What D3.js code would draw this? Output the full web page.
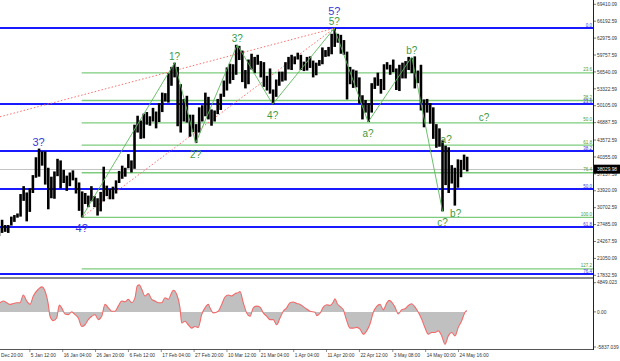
<!DOCTYPE html>
<html><head><meta charset="utf-8">
<script src="https://cdn.jsdelivr.net/npm/d3@7"></script>
<style>body{margin:0;background:#fff;}svg{display:block;}</style>
</head><body>
<svg id="c" width="620" height="361"></svg>
<script>
// ---------- DATA ----------
const firstDay = "2020-12-26";
const dayHighs = [26900,28400,27400,27400,29000,29300,
29600,33300,34800,33600,34400,36900,40300,41950,41400,41400,38300,36600,37600,40000,39700,37900,36800,37400,37800,36400,35500,33800,33500,33000,34800,32900,32500,33700,38500,34900,34300,
34700,35900,37700,38700,38300,40900,39700,46500,48200,47300,48600,48900,48100,49700,49000,50600,52600,52500,56300,57500,58300,57500,54200,51400,52000,48400,48400,46600,
49800,50200,52600,51800,49400,49200,51400,52400,54900,57400,58100,58000,61700,61500,60600,56900,58900,60000,59400,59800,58600,58400,55800,57200,53200,55100,56600,56600,58400,59400,59800,
59500,60200,59800,58500,59400,59500,58700,58300,58800,61200,60700,61300,63800,64850,63800,63600,62600,60400,57500,57000,56800,55500,52100,51200,50600,54400,55500,56400,55200,58000,
58400,57900,58900,57200,57900,58300,58600,59400,59200,59500,56800,57900,51300,51400,50600,49800,46600,45800,43500,42500,42200,38800,38300,39900,39800,40800,40400];
const dayLows = [25300,25900,26100,25900,27300,28000,
28800,29000,32000,28100,29900,33500,36400,36600,38700,35100,30400,32500,32400,36700,34400,35400,33900,34800,35900,33400,30100,28850,31400,30800,31900,30800,29200,30000,31900,32900,32300,
32300,33400,35400,36200,36600,38200,37400,38100,45000,43800,43900,46500,46300,47100,45800,47000,48900,50900,50700,53900,55500,46200,45000,47100,46900,44200,45100,43000,
45000,47100,48100,47500,46300,47100,48500,49300,51800,53000,54300,55000,56000,58800,54600,53400,54200,57000,56300,57900,55500,53700,53000,52400,50400,51800,53900,54700,54900,57000,56900,
58000,58900,56900,56700,56800,57300,55500,55900,57700,58000,59400,59500,59900,61300,62100,60000,59800,51300,54200,53500,53600,50500,47500,48800,47000,48800,53300,53900,52400,53100,
57000,56000,56500,53100,52900,55300,55300,56900,56300,53400,54400,49200,46000,48800,46700,43800,42100,42300,30000,35000,33500,35300,31100,34500,36500,37900,37600];
const lastPrice = 38029.98;

const priceTicks = [69410.09,66192.59,62975.09,59757.59,56540.09,53322.59,50105.09,46887.59,43572.59,40355.09,37137.59,33920.09,30702.59,27485.09,24267.59,21050.09,17832.59];
const oscTicks = [4849.023, 0, -5837.039];
const oscTickLabels = ["4849.023","0.00","-5837.039"];

const timeTicks = ["2020-12-25T20:00","2021-01-05T12:00","2021-01-16T04:00","2021-01-26T20:00","2021-02-06T12:00","2021-02-17T04:00","2021-02-27T20:00","2021-03-10T12:00","2021-03-21T04:00","2021-04-01T04:00","2021-04-11T20:00","2021-04-22T12:00","2021-05-03T08:00","2021-05-14T00:00","2021-05-24T16:00"];
const timeTickLabels = ["Dec 20:00","5 Jan 12:00","16 Jan 04:00","26 Jan 20:00","6 Feb 12:00","17 Feb 04:00","27 Feb 20:00","10 Mar 12:00","21 Mar 04:00","1 Apr 04:00","11 Apr 20:00","22 Apr 12:00","3 May 08:00","14 May 00:00","24 May 16:00"];

// oscillator: days after 25 Dec 20:00, value
const oscDays = [0.97,2.05,3.15,4.22,5.29,6.40,7.47,8.54,9.64,10.71,11.79,13.41,14.51,15.58,16.66,17.21,18.28,19.38,20.23,21.01,22.08,23.15,24.25,25.32,26.40,27.50,28.57,29.64,30.75,31.82,32.89,33.99,35.06,36.14,37.24,38.31,39.38,40.49,41.56,42.63,43.73,44.81,45.55,46.20,46.98,48.05,49.12,50.23,51.30,52.37,53.47,54.55,55.62,56.72,57.24,58.34,59.42,59.97,61.04,62.11,63.21,64.29,65.36,66.46,67.53,68.60,69.16,70.23,71.85,72.95,74.03,75.10,76.20,77.27,78.34,78.90,79.97,81.07,82.14,83.21,84.32,85.39,86.46,87.56,88.64,89.71,90.81,91.88,92.95,94.06,95.13,96.20,97.31,98.38,
100.0,101.62,103.25,103.80,104.87,105.94,107.05,108.12,109.19,109.74,110.49,111.36,112.44,113.54,114.61,115.68,116.79,117.86,118.93,120.03,121.10,122.18,123.28,124.35,125.42,126.53,127.37,128.15,129.22,130.29,131.40,132.47,133.54,134.64,135.71,136.79,137.89,138.96,140.03,141.14,142.21,143.28,144.38,145.45,146.53,147.63,148.70,149.77,150.88,151.95,152.50];
const oscValues = [1520,1800,1520,1240,1400,1520,1520,2810,1800,1240,2640,3760,4160,3480,1240,-730,-1460,-1010,1120,670,-340,-450,0,-450,-1010,-2420,-2140,-1290,-730,-450,-1290,-730,1240,670,110,110,960,1800,1690,2080,1520,2360,4330,4490,3760,2640,3030,2080,1800,1520,1520,2360,2080,3200,3600,2920,670,-1850,-1570,-2140,-2700,-2420,-2580,-450,670,1240,670,-170,110,1240,2470,2810,2640,3030,3200,3370,1520,-170,-730,670,960,790,-170,-730,-1290,-1290,-2140,-1010,110,670,1520,1630,1400,1240,
670,110,-60,-620,-230,790,1180,1070,1630,2190,1350,900,340,-1460,-2700,-2700,-2580,-2870,-3710,-3150,-2020,-60,900,1240,340,1460,1910,1630,790,-340,340,510,1070,1350,790,-60,-1240,-2640,-3710,-3430,-3430,-3150,-3990,-5390,-3990,-3430,-3990,-2580,-1460,-60,230];

// Fibonacci grids
const blueFibLevels = [0,23.6,38.2,50,61.8,76.4];
const blueFibHigh = 64850, blueFibLow = 3600;
const greenFibLevels = [0,23.6,38.2,50,61.8,76.4,100,127.2];
const greenFibHigh = 64850, greenFibLow = 28850, greenFibStart = "2021-01-22T08:00";

// wave count (green zigzag)
const waveDates = ["2021-01-22T08:00","2021-02-21T12:00","2021-02-28T08:00","2021-03-13T20:00","2021-03-25T08:00","2021-04-14T08:00","2021-04-25T08:00","2021-05-09T12:00","2021-05-19T12:00"];
const wavePrices = [28850,58300,43000,61700,50400,64850,47000,59400,30000];

// red dotted channel lines
const redLines = [
  [["2020-12-26T19:00",48000],["2021-04-14T08:00",64850]],
  [["2021-01-22T08:00",28850],["2021-04-14T08:00",64850]]
];

const waveLabels = [
  {text:"3?",date:"2021-01-08T08:00",price:41950,group:"blue",place:"above"},
  {text:"4?",date:"2021-01-22T08:00",price:28850,group:"blue",place:"below"},
  {text:"5?",date:"2021-04-14T08:00",price:64850,group:"blue",place:"above2"},
  {text:"1?",date:"2021-02-21T12:00",price:58300,group:"green",place:"above"},
  {text:"2?",date:"2021-02-28T08:00",price:43000,group:"green",place:"below"},
  {text:"3?",date:"2021-03-13T20:00",price:61700,group:"green",place:"above"},
  {text:"4?",date:"2021-03-25T08:00",price:50400,group:"green",place:"below"},
  {text:"5?",date:"2021-04-14T08:00",price:64850,group:"green",place:"above"},
  {text:"a?",date:"2021-04-25T08:00",price:47000,group:"green",place:"below"},
  {text:"b?",date:"2021-05-09T12:00",price:59400,group:"green",place:"above"},
  {text:"c?",date:"2021-05-19T12:00",price:30000,group:"green",place:"below"},
  {text:"a?",date:"2021-05-20T16:00",price:42500,group:"green",place:"above"},
  {text:"b?",date:"2021-05-23T18:00",price:31600,group:"green",place:"below"},
  {text:"c?",date:"2021-06-02T00:00",price:47960,group:"green",place:"center"}
];

// ---------- DRAW ----------
const svg = d3.select("#c");
const W = 620, H = 361;
const plotR = 593;
const mainTop = 0, mainBot = 277;
const oscTop = 279, oscBot = 349;
const parse = d3.utcParse("%Y-%m-%dT%H:%M");
const t0 = Date.UTC(2020,11,25,20);

const x = d3.scaleUtc().domain([new Date(t0), new Date(Date.UTC(2021,4,24,16))]).range([-3, -3 + 3.08*149.8333]);
const y = d3.scaleLinear().domain([17832.59, 69410.09]).range([275.3, 4.3]);
const yo = d3.scaleLinear().domain([-5837.039, 4849.023]).range([347, 282.7]);

svg.append("rect").attr("width",W).attr("height",H).attr("fill","#fff");
const defs = svg.append("defs");
defs.append("clipPath").attr("id","cm").append("rect").attr("x",0).attr("y",mainTop).attr("width",plotR).attr("height",mainBot-mainTop);
defs.append("clipPath").attr("id","co").append("rect").attr("x",0).attr("y",oscTop).attr("width",plotR).attr("height",oscBot-oscTop);

const main = svg.append("g").attr("clip-path","url(#cm)");
const fontAxis = "'Liberation Sans', Arial, sans-serif";

// current price line
main.append("line").attr("x1",0).attr("x2",plotR).attr("y1",Math.round(y(lastPrice))+0.5).attr("y2",Math.round(y(lastPrice))+0.5)
  .attr("stroke","#c4c4c4").attr("stroke-width",1);

// green fib
const gx0 = x(parse(greenFibStart));
const gPrice = l => greenFibHigh - (greenFibHigh - greenFibLow) * l / 100;
main.selectAll("line.gf").data(greenFibLevels).join("line").attr("class","gf")
  .attr("x1",gx0).attr("x2",plotR).attr("y1",d=>y(gPrice(d))).attr("y2",d=>y(gPrice(d)))
  .attr("stroke","#5cbf5c").attr("stroke-width",1.3).attr("stroke-opacity",0.8);

// blue fib
const bPrice = l => blueFibHigh - (blueFibHigh - blueFibLow) * l / 100;
main.selectAll("line.bf").data(blueFibLevels).join("line").attr("class","bf")
  .attr("x1",0).attr("x2",plotR).attr("y1",d=>Math.round(y(bPrice(d)))).attr("y2",d=>Math.round(y(bPrice(d))))
  .attr("stroke","#1a1aff").attr("stroke-width",2);

// fib labels
main.selectAll("text.gfl").data(greenFibLevels.filter(d=>d>0)).join("text").attr("class","gfl")
  .attr("x",plotR-1).attr("y",d=>y(gPrice(d))-1.6).attr("text-anchor","end")
  .attr("font-family",fontAxis).attr("font-size",4.5).attr("fill","#3f9a3f").text(d=>d.toFixed(1));
main.selectAll("text.bfl").data(blueFibLevels).join("text").attr("class","bfl")
  .attr("x",plotR-1).attr("y",d=>y(bPrice(d))-1.2).attr("text-anchor","end")
  .attr("font-family",fontAxis).attr("font-size",4.5).attr("fill","#3a3ae0").text(d=>d.toFixed(1));

// red dotted lines
redLines.forEach(seg=>{
  main.append("line")
    .attr("x1",x(parse(seg[0][0]))).attr("y1",y(seg[0][1]))
    .attr("x2",x(parse(seg[1][0]))).attr("y2",y(seg[1][1]))
    .attr("stroke","#ff6e6e").attr("stroke-width",1).attr("stroke-dasharray","1.5,2");
});

// price bars (daily high-low ranges)
const day0 = d3.utcParse("%Y-%m-%d")(firstDay);
const bars = dayHighs.map((h,i)=>({t:d3.utcDay.offset(day0,i), h, l:dayLows[i]}));
main.selectAll("rect.bar").data(bars).join("rect").attr("class","bar")
  .attr("x",d=>x(d.t)+0.2)
  .attr("width",d=>Math.max(0.8, x(d3.utcDay.offset(d.t,1))-x(d.t)-0.5))
  .attr("y",d=>y(d.h)).attr("height",d=>Math.max(1,y(d.l)-y(d.h)))
  .attr("fill","#000");

// green zigzag
const zz = waveDates.map((d,i)=>[x(parse(d)), y(wavePrices[i])]);
main.append("path").attr("d", d3.line()(zz)).attr("fill","none")
  .attr("stroke","#5cb85c").attr("stroke-width",0.9);

// wave labels
const offs = {above:-6.5, below:11, above2:-17.5, center:0};
main.selectAll("text.wl").data(waveLabels).join("text").attr("class","wl")
  .attr("x",d=>x(parse(d.date))).attr("y",d=>y(d.price)+offs[d.place])
  .attr("dy","0.35em").attr("text-anchor","middle")
  .attr("font-family","'Liberation Sans', Arial, sans-serif")
  .attr("font-size",d=>d.group==="blue"?11:10)
  .attr("fill",d=>d.group==="blue"?"#3a3ad8":"#3f9a3f")
  .text(d=>d.text);

// separator between panels
svg.append("rect").attr("x",0).attr("y",mainBot).attr("width",plotR).attr("height",2).attr("fill","#8a8a8a");

// oscillator
const osc = svg.append("g").attr("clip-path","url(#co)");
const od = oscDays.map((d,i)=>({t:new Date(t0 + d*86400000), v:oscValues[i]}));
osc.append("path").datum(od)
  .attr("d", d3.area().x(d=>x(d.t)).y0(yo(0)).y1(d=>yo(d.v)).curve(d3.curveMonotoneX))
  .attr("fill","#c0c0c0");
osc.append("path").datum(od)
  .attr("d", d3.line().x(d=>x(d.t)).y(d=>yo(d.v)).curve(d3.curveMonotoneX))
  .attr("fill","none").attr("stroke","#f26b6b").attr("stroke-width",1.1);

// osc bottom border
svg.append("line").attr("x1",0).attr("x2",plotR).attr("y1",oscBot+0.5).attr("y2",oscBot+0.5).attr("stroke","#555").attr("stroke-width",1);
// right axis line
svg.append("line").attr("x1",plotR+0.5).attr("x2",plotR+0.5).attr("y1",0).attr("y2",oscBot+1).attr("stroke","#222").attr("stroke-width",1);

// price axis ticks & labels
const ax = svg.append("g");
ax.selectAll("line.pt").data(priceTicks).join("line").attr("class","pt")
  .attr("x1",plotR).attr("x2",plotR+3).attr("y1",d=>y(d)).attr("y2",d=>y(d)).attr("stroke","#222").attr("stroke-width",0.6);
ax.selectAll("text.pl").data(priceTicks).join("text").attr("class","pl")
  .attr("x",plotR+4).attr("y",d=>y(d)).attr("dy","0.35em")
  .attr("font-family",fontAxis).attr("font-size",4.8).attr("fill","#333").text(d=>d.toFixed(2));

// last price box
ax.append("rect").attr("x",plotR+1).attr("y",y(lastPrice)-4.5).attr("width",W-plotR-1).attr("height",9).attr("fill","#000");
ax.append("text").attr("x",plotR+4).attr("y",y(lastPrice)).attr("dy","0.35em")
  .attr("font-family",fontAxis).attr("font-size",4.8).attr("fill","#fff").text(lastPrice.toFixed(2));

// osc axis
ax.selectAll("line.ot").data(oscTicks).join("line").attr("class","ot")
  .attr("x1",plotR).attr("x2",plotR+3).attr("y1",d=>yo(d)).attr("y2",d=>yo(d)).attr("stroke","#222").attr("stroke-width",0.6);
ax.selectAll("text.ol").data(oscTicks).join("text").attr("class","ol")
  .attr("x",plotR+4).attr("y",d=>yo(d)).attr("dy","0.35em")
  .attr("font-family",fontAxis).attr("font-size",4.8).attr("fill","#333").text((d,i)=>oscTickLabels[i]);

// time axis
const tt = timeTicks.map(parse);
ax.selectAll("line.tt").data(tt).join("line").attr("class","tt")
  .attr("x1",d=>x(d)).attr("x2",d=>x(d)).attr("y1",oscBot).attr("y2",oscBot+3).attr("stroke","#444").attr("stroke-width",0.6);
ax.selectAll("text.tl").data(tt).join("text").attr("class","tl")
  .attr("x",d=>Math.max(1, x(d)+1)).attr("y",355).attr("dy","0.35em")
  .attr("font-family",fontAxis).attr("font-size",4.8).attr("fill","#333").text((d,i)=>timeTickLabels[i]);
</script>
</body></html>
